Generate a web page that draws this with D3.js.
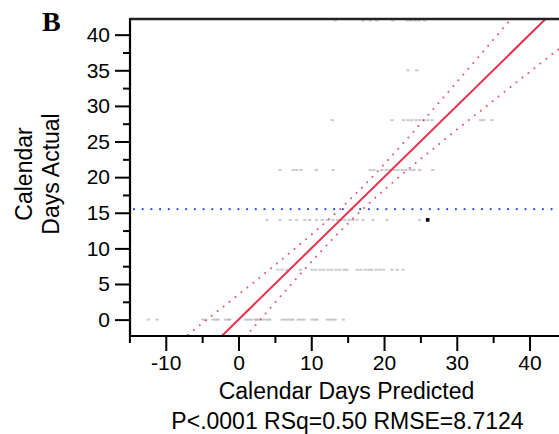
<!DOCTYPE html>
<html>
<head>
<meta charset="utf-8">
<script src="https://cdn.jsdelivr.net/npm/d3@7"></script>
<style>
  html, body { margin: 0; padding: 0; background: #fff; }
  svg { display: block; }
  text { font-family: "Liberation Sans", Arial, Helvetica, sans-serif; fill: #000; }
</style>
</head>
<body>
<svg id="chart" width="559" height="434"></svg>
<script>
// Observations grouped by actual calendar days (weekly steps); each array holds the predicted days
const predictedAt0  = [-12.4, -11.2, -4.9, -4.5, -3.5, -3.1, -2.8, -1.8, -1.4, -1.2, 1.0, 1.4, 1.8, 2.3, 2.5, 2.8,
                       3.2, 3.6, 4.0, 4.3, 6.0, 6.4, 6.8, 7.2, 7.5, 8.2, 8.6, 9.0, 10.1, 10.5, 10.8, 12.2, 12.6, 13.0, 13.3, 14.4];
const predictedAt7  = [5.4, 6.0, 6.6, 8.5, 10.1, 10.6, 11.2, 11.7, 12.3, 12.8, 13.4, 13.9, 14.5, 14.9, 16.3, 16.8,
                       17.4, 17.9, 18.3, 18.9, 19.4, 19.9, 21.1, 21.8, 22.6];
const predictedAt14 = [3.9, 5.7, 7.1, 8.0, 9.1, 9.8, 10.7, 11.5, 12.2, 13.0, 13.6, 14.1, 14.6, 15.2, 15.7, 16.3,
                       17.1, 18.5, 20.4, 24.9];
const predictedAt21 = [5.7, 7.5, 8.0, 8.6, 10.7, 13.0, 18.1, 18.6, 19.7, 20.3, 20.8, 21.4, 21.9, 22.5, 23.0, 23.6, 24.1, 24.9, 26.7];
const predictedAt28 = [12.9, 21.1, 22.7, 23.3, 23.8, 24.4, 24.9, 25.5, 26.0, 26.6, 33.3, 33.7, 34.8];
const predictedAt35 = [23.3, 24.5];
const predictedAt42 = [13.3, 17.1, 18.1, 19.0, 21.2, 23.2, 23.7, 24.3, 24.8, 25.6];
const actualDays    = [0, 7, 14, 21, 28, 35, 42];
const predictedRows = [predictedAt0, predictedAt7, predictedAt14, predictedAt21, predictedAt28, predictedAt35, predictedAt42];

// Highlighted observation: [predicted, actual]
const selectedPoint = [26.0, 14];

// Fit summary
const meanActual = 15.5;
const rmse = 8.7124;
const tCrit = 1.98;
const sxxPredicted = 7100;
const statsLabel = "P<.0001 RSq=0.50 RMSE=8.7124";

// Axis ticks
const xMajorTicks = [-10, 0, 10, 20, 30, 40];
const xMinorTicks = [-15, -5, 5, 15, 25, 35, 45];
const yMajorTicks = [0, 5, 10, 15, 20, 25, 30, 35, 40];
const yMinorTicks = [2.5, 7.5, 12.5, 17.5, 22.5, 27.5, 32.5, 37.5];

const points = [];
actualDays.forEach((a, i) => predictedRows[i].forEach(p => points.push([p, a])));
const nObs = points.length;

const svg = d3.select("#chart");
svg.append("rect").attr("width", 559).attr("height", 434).attr("fill", "#fff");

const x = d3.scaleLinear().domain([-15, 45]).range([129.4, 565.9]);
const y = d3.scaleLinear().domain([-2.3, 42.2]).range([336, 19]);
const [x0, x1] = [130, 559];
const [yTop, yBot] = [19, 336];

svg.append("clipPath").attr("id", "plotClip")
  .append("rect").attr("x", x0).attr("y", yTop).attr("width", x1 - x0).attr("height", yBot - yTop);

const plot = svg.append("g").attr("clip-path", "url(#plotClip)");

// Observations
plot.append("g").selectAll("rect").data(points).join("rect")
  .attr("x", d => x(d[0]) - 1.6)
  .attr("y", d => y(d[1]) - 1)
  .attr("width", 3.2).attr("height", 2)
  .attr("fill", "#8a8a8a").attr("opacity", 0.45);

// Mean of actual
plot.append("line")
  .attr("x1", x0 + 4).attr("x2", x1)
  .attr("y1", y(meanActual)).attr("y2", y(meanActual))
  .attr("stroke", "#2a4fd6").attr("stroke-width", 2.2)
  .attr("stroke-dasharray", "0 8.7").attr("stroke-linecap", "round");

// Confidence curves around the fit
const xs = d3.range(-16, 46.01, 0.25);
const halfWidth = v => tCrit * rmse * Math.sqrt(1 / nObs + (v - meanActual) ** 2 / sxxPredicted);
const curve = d3.line().x(d => x(d[0])).y(d => y(d[1]));
[1, -1].forEach(sign => {
  plot.append("path")
    .attr("d", curve(xs.map(v => [v, v + sign * halfWidth(v)])))
    .attr("fill", "none").attr("stroke", "#e2304c").attr("stroke-width", 2)
    .attr("stroke-dasharray", "0 7.6").attr("stroke-linecap", "round").attr("opacity", 0.85);
});

// Fit line (actual = predicted)
plot.append("path")
  .attr("d", curve([[-16, -16], [46, 46]]))
  .attr("fill", "none").attr("stroke", "#e8304e").attr("stroke-width", 2);

// Highlighted observation
plot.append("rect")
  .attr("x", x(selectedPoint[0]) - 1.8).attr("y", y(selectedPoint[1]) - 1.8)
  .attr("width", 3.6).attr("height", 3.6).attr("fill", "#000");

// Frame
svg.append("line").attr("x1", x0).attr("x2", x1).attr("y1", yTop).attr("y2", yTop)
  .attr("stroke", "#222").attr("stroke-width", 2.4);

// Axes
const styleAxis = g => {
  g.select(".domain").remove();
  g.selectAll(".tick line").attr("stroke", "#000").attr("stroke-width", 2);
  g.selectAll(".tick text").style("font-size", "21px").attr("fill", "#000");
};
svg.append("g").attr("transform", `translate(${x0},0)`)
  .call(d3.axisLeft(y).tickValues(yMinorTicks).tickSize(7).tickFormat(""))
  .call(styleAxis);
svg.append("g").attr("transform", `translate(${x0},0)`)
  .call(d3.axisLeft(y).tickValues(yMajorTicks).tickSize(15).tickPadding(5).tickFormat(d => String(d)))
  .call(styleAxis);
svg.append("g").attr("transform", `translate(0,${yBot})`)
  .call(d3.axisBottom(x).tickValues(xMinorTicks).tickSize(7).tickFormat(""))
  .call(styleAxis);
svg.append("g").attr("transform", `translate(0,${yBot})`)
  .call(d3.axisBottom(x).tickValues(xMajorTicks).tickSize(15).tickPadding(4).tickFormat(d => String(d)))
  .call(styleAxis);

svg.append("line").attr("x1", x0).attr("x2", x0).attr("y1", yTop - 1).attr("y2", yBot + 1)
  .attr("stroke", "#000").attr("stroke-width", 2.2);
svg.append("line").attr("x1", x0 - 1).attr("x2", x1).attr("y1", yBot).attr("y2", yBot)
  .attr("stroke", "#000").attr("stroke-width", 2.2);

// Titles
svg.append("text").attr("x", 42).attr("y", 31)
  .style("font-family", "'Liberation Serif', 'Times New Roman', serif")
  .style("font-weight", "bold").style("font-size", "28px").text("B");

svg.append("text").attr("transform", "translate(32,174) rotate(-90)")
  .attr("text-anchor", "middle").style("font-size", "23px").text("Calendar");
svg.append("text").attr("transform", "translate(58.5,174) rotate(-90)")
  .attr("text-anchor", "middle").style("font-size", "23px").text("Days Actual");

svg.append("text").attr("x", 346.5).attr("y", 398.5)
  .attr("text-anchor", "middle").style("font-size", "23px").text("Calendar Days Predicted");
svg.append("text").attr("x", 347.5).attr("y", 428.5)
  .attr("text-anchor", "middle").style("font-size", "23px").text(statsLabel);
</script>
</body>
</html>
